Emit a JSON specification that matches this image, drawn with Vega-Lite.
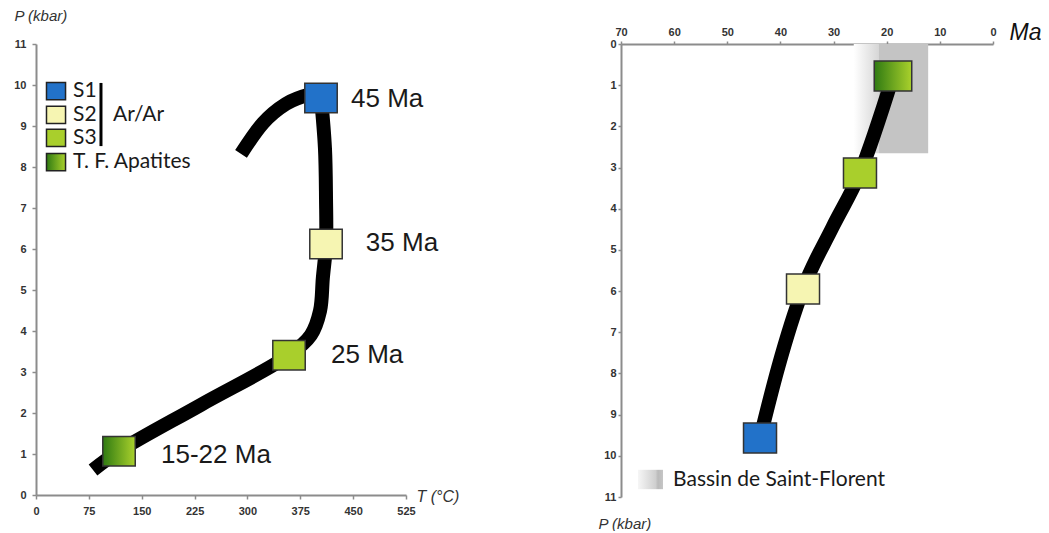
{
  "$schema": "https://vega.github.io/schema/vega-lite/v6.json",
  "padding": {"left": 13, "top": 8, "right": 0, "bottom": 0},
  "bounds": "flush",
  "spacing": 215,
  "resolve": {"scale": {"x": "independent", "y": "independent"}, "axis": {"x": "independent", "y": "independent"}},
  "datasets": {
    "leftPathA": [
      {"ord": 1, "T": 80.9, "P": 0.61},
      {"ord": 2, "T": 117.8, "P": 1.07},
      {"ord": 3, "T": 234, "P": 2.2},
      {"ord": 4, "T": 359, "P": 3.41},
      {"ord": 5, "T": 390, "P": 3.9},
      {"ord": 6, "T": 403, "P": 4.49},
      {"ord": 7, "T": 407, "P": 5.29},
      {"ord": 8, "T": 411.5, "P": 6.12},
      {"ord": 9, "T": 411.5, "P": 7.24},
      {"ord": 10, "T": 410, "P": 8.46},
      {"ord": 11, "T": 404.4, "P": 9.68}
    ],
    "leftPathB": [
      {"ord": 1, "T": 290.9, "P": 8.32},
      {"ord": 2, "T": 322.1, "P": 9.07},
      {"ord": 3, "T": 354.7, "P": 9.54},
      {"ord": 4, "T": 390.2, "P": 9.78}
    ],
    "leftSquares": [
      {"name": "S1", "T": 404.4, "P": 9.68},
      {"name": "S2", "T": 411.5, "P": 6.12},
      {"name": "S3", "T": 359, "P": 3.41}
    ],
    "leftTF": [{"name": "TF", "T": 117.8, "P": 1.07}],
    "leftAges": [
      {"label": "45 Ma", "T": 447, "P": 9.66},
      {"label": "35 Ma", "T": 468, "P": 6.15},
      {"label": "25 Ma", "T": 418.6, "P": 3.41},
      {"label": "15-22 Ma", "T": 177.4, "P": 0.98}
    ],
    "legendSquares": [
      {"name": "S1", "T": 28.4, "P": 9.85},
      {"name": "S2", "T": 28.4, "P": 9.27},
      {"name": "S3", "T": 28.4, "P": 8.71}
    ],
    "legendTF": [{"name": "TF", "T": 28.4, "P": 8.12}],
    "legendText": [
      {"label": "S1", "T": 52.5, "P": 9.85},
      {"label": "S2", "T": 52.5, "P": 9.27},
      {"label": "S3", "T": 52.5, "P": 8.71},
      {"label": "T. F. Apatites", "T": 52.5, "P": 8.12},
      {"label": "Ar/Ar", "T": 109.3, "P": 9.27}
    ],
    "legendBar": [{"T": 92.2, "P": 8.51, "P2": 10.05}],
    "rightPath": [
      {"ord": 1, "Ma": 43.84, "P": 9.57},
      {"ord": 2, "Ma": 40.46, "P": 7.87},
      {"ord": 3, "Ma": 35.75, "P": 5.95},
      {"ord": 4, "Ma": 30.2, "P": 4.45},
      {"ord": 5, "Ma": 25.03, "P": 3.13},
      {"ord": 6, "Ma": 18.82, "P": 0.78}
    ],
    "rightSquares": [
      {"name": "S1", "Ma": 43.84, "P": 9.57},
      {"name": "S2", "Ma": 35.75, "P": 5.95},
      {"name": "S3", "Ma": 25.03, "P": 3.13}
    ],
    "rightTF": [{"name": "TF", "Ma": 18.82, "P": 0.78}],
    "basinFade": [{"Ma": 26.2, "Ma2": 21.45, "P": 0, "P2": 2.65}],
    "basinSolid": [{"Ma": 21.45, "Ma2": 12.2, "P": 0, "P2": 2.65}],
    "basinKey": [{"Ma": 66.8, "Ma2": 62.1, "P": 10.34, "P2": 10.81}],
    "basinText": [{"label": "Bassin de Saint-Florent", "Ma": 60.2, "P": 10.59}]
  },
  "hconcat": [
    {
      "width": 370,
      "height": 451,
      "encoding": {
        "x": {"field": "T", "type": "quantitative",
              "scale": {"domain": [0, 525], "nice": false, "zero": false},
              "axis": {"values": [0, 75, 150, 225, 300, 375, 450, 525], "title": "T (°C)", "titleX": 380, "titleY": 1, "titleFontSize": 16, "labelPadding": 6}},
        "y": {"field": "P", "type": "quantitative",
              "scale": {"domain": [0, 11], "nice": false, "zero": false},
              "axis": {"values": [0, 1, 2, 3, 4, 5, 6, 7, 8, 9, 10, 11], "title": "P (kbar)", "titleX": -22, "titleY": -29, "titleFontSize": 15, "labelPadding": 6}}
      },
      "layer": [
        {
          "data": {"name": "leftPathA"},
          "mark": {"type": "line", "color": "#000000", "strokeWidth": 14, "interpolate": "catmull-rom", "strokeCap": "butt"},
          "encoding": {"order": {"field": "ord", "type": "quantitative"}}
        },
        {
          "data": {"name": "leftPathB"},
          "mark": {"type": "line", "color": "#000000", "strokeWidth": 14, "interpolate": "monotone", "strokeCap": "butt"},
          "encoding": {"order": {"field": "ord", "type": "quantitative"}}
        },
        {
          "data": {"name": "leftSquares"},
          "mark": {"type": "point", "shape": "M-1.1,-1H1.1V1H-1.1Z", "size": 870, "filled": true, "opacity": 1, "stroke": "#333333", "strokeWidth": 1.5},
          "encoding": {"fill": {"field": "name", "type": "nominal", "scale": {"domain": ["S1", "S2", "S3"], "range": ["#2272c9", "#f6f5b2", "#a9cf2c"]}, "legend": null}}
        },
        {
          "data": {"name": "leftTF"},
          "mark": {"type": "point", "shape": "M-1.1,-1H1.1V1H-1.1Z", "size": 870, "filled": true, "opacity": 1, "stroke": "#333333", "strokeWidth": 1.5,
                   "fill": {"gradient": "linear", "x1": 0, "y1": 0, "x2": 1, "y2": 0, "stops": [{"offset": 0, "color": "#2f7a12"}, {"offset": 1, "color": "#aad12c"}]}}
        },
        {
          "data": {"name": "leftAges"},
          "mark": {"type": "text", "align": "left", "baseline": "middle", "font": "Liberation Sans", "fontSize": 26, "color": "#1a1a1a"},
          "encoding": {"text": {"field": "label"}}
        },
        {
          "data": {"name": "legendSquares"},
          "mark": {"type": "point", "shape": "M-1.1,-1H1.1V1H-1.1Z", "size": 300, "filled": true, "opacity": 1, "stroke": "#222222", "strokeWidth": 1.5},
          "encoding": {"fill": {"field": "name", "type": "nominal", "scale": {"domain": ["S1", "S2", "S3"], "range": ["#2272c9", "#f6f5b2", "#a9cf2c"]}, "legend": null}}
        },
        {
          "data": {"name": "legendTF"},
          "mark": {"type": "point", "shape": "M-1.1,-1H1.1V1H-1.1Z", "size": 300, "filled": true, "opacity": 1, "stroke": "#222222", "strokeWidth": 1.5,
                   "fill": {"gradient": "linear", "x1": 0, "y1": 0, "x2": 1, "y2": 0, "stops": [{"offset": 0, "color": "#2f7a12"}, {"offset": 1, "color": "#aad12c"}]}}
        },
        {
          "data": {"name": "legendText"},
          "mark": {"type": "text", "align": "left", "baseline": "middle", "font": "Lato", "fontSize": 21, "color": "#1a1a1a"},
          "encoding": {"text": {"field": "label"}}
        },
        {
          "data": {"name": "legendBar"},
          "mark": {"type": "rule", "color": "#000000", "strokeWidth": 3},
          "encoding": {"y2": {"field": "P2"}}
        }
      ]
    },
    {
      "width": 372,
      "height": 453,
      "encoding": {
        "x": {"field": "Ma", "type": "quantitative",
              "scale": {"domain": [0, 70], "reverse": true, "nice": false, "zero": false},
              "axis": {"orient": "top", "values": [0, 10, 20, 30, 40, 50, 60, 70], "title": "Ma", "titleX": 388, "titleY": -12, "titleFontSize": 23, "titleColor": "#111111", "tickSize": 3, "labelPadding": 4}},
        "y": {"field": "P", "type": "quantitative",
              "scale": {"domain": [0, 11], "reverse": true, "nice": false, "zero": false},
              "axis": {"values": [0, 1, 2, 3, 4, 5, 6, 7, 8, 9, 10, 11], "title": "P (kbar)", "titleX": -23, "titleY": 479, "titleFontSize": 15, "tickSize": 3, "labelPadding": 2}}
      },
      "layer": [
        {
          "data": {"name": "basinFade"},
          "mark": {"type": "rect", "fill": {"gradient": "linear", "x1": 0, "y1": 0, "x2": 1, "y2": 0, "stops": [{"offset": 0, "color": "#ffffff"}, {"offset": 1, "color": "#d6d6d6"}]}},
          "encoding": {"x2": {"field": "Ma2"}, "y2": {"field": "P2"}}
        },
        {
          "data": {"name": "basinSolid"},
          "mark": {"type": "rect", "fill": "#c4c4c4"},
          "encoding": {"x2": {"field": "Ma2"}, "y2": {"field": "P2"}}
        },
        {
          "data": {"name": "rightPath"},
          "mark": {"type": "line", "color": "#000000", "strokeWidth": 14, "interpolate": "monotone", "strokeCap": "butt"},
          "encoding": {"order": {"field": "ord", "type": "quantitative"}}
        },
        {
          "data": {"name": "rightSquares"},
          "mark": {"type": "point", "shape": "M-1.1,-1H1.1V1H-1.1Z", "size": 900, "filled": true, "opacity": 1, "stroke": "#333333", "strokeWidth": 1.5},
          "encoding": {"fill": {"field": "name", "type": "nominal", "scale": {"domain": ["S1", "S2", "S3"], "range": ["#2272c9", "#f6f5b2", "#a9cf2c"]}, "legend": null}}
        },
        {
          "data": {"name": "rightTF"},
          "mark": {"type": "point", "shape": "M-1.25,-1H1.25V1H-1.25Z", "size": 900, "filled": true, "opacity": 1, "stroke": "#333333", "strokeWidth": 1.5,
                   "fill": {"gradient": "linear", "x1": 0, "y1": 0, "x2": 1, "y2": 0, "stops": [{"offset": 0, "color": "#2f7a12"}, {"offset": 1, "color": "#aad12c"}]}}
        },
        {
          "data": {"name": "basinKey"},
          "mark": {"type": "rect", "fill": {"gradient": "linear", "x1": 0, "y1": 0, "x2": 1, "y2": 0, "stops": [{"offset": 0, "color": "#f6f6f6"}, {"offset": 0.7, "color": "#cfcfcf"}, {"offset": 0.8, "color": "#bababa"}, {"offset": 1, "color": "#c6c6c6"}]}},
          "encoding": {"x2": {"field": "Ma2"}, "y2": {"field": "P2"}}
        },
        {
          "data": {"name": "basinText"},
          "mark": {"type": "text", "align": "left", "baseline": "middle", "font": "Lato", "fontSize": 21, "color": "#1a1a1a"},
          "encoding": {"text": {"field": "label"}}
        }
      ]
    }
  ],
  "config": {
    "view": {"stroke": null},
    "axis": {
      "grid": false,
      "domainColor": "#8c8c8c",
      "domainWidth": 2,
      "tickColor": "#8c8c8c",
      "tickWidth": 1.5,
      "tickSize": 4,
      "labelFont": "Liberation Sans",
      "labelFontSize": 11,
      "labelFontWeight": "bold",
      "labelColor": "#333333",
      "labelFlush": false,
      "labelOverlap": false,
      "titleFont": "Liberation Sans",
      "titleFontWeight": "normal",
      "titleFontStyle": "italic",
      "titleColor": "#333333",
      "titleAngle": 0,
      "titleAlign": "left",
      "titleBaseline": "middle"
    }
  }
}
